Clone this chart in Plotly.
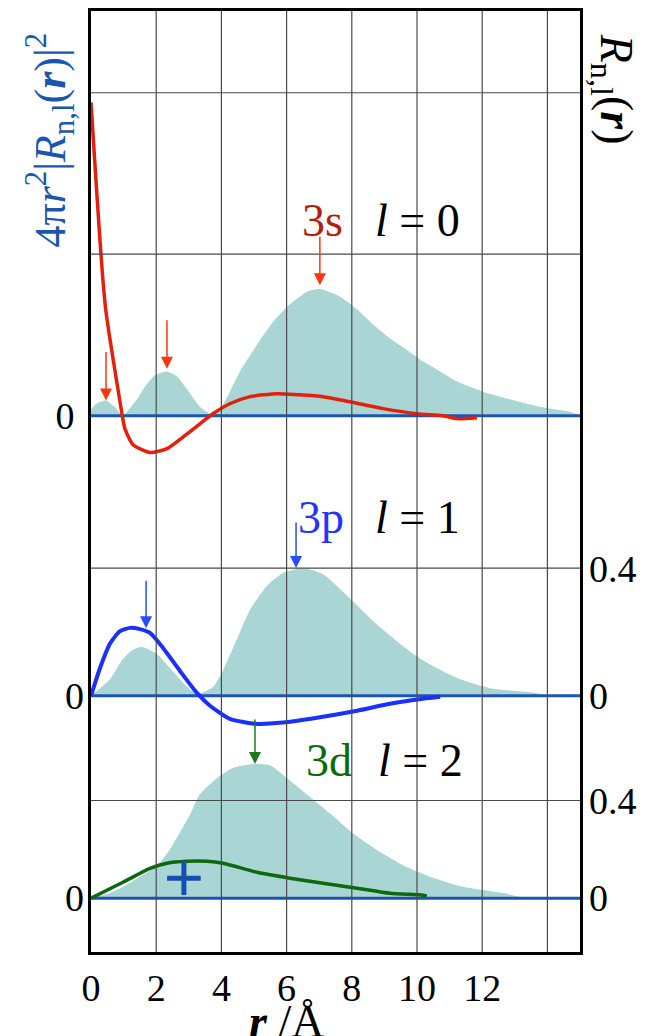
import plotly.graph_objects as go

# ---- radial data (r in Å) ----
# 3s: radial probability density (relative) and radial function R(r)
r_3s_dens = [0, 0.2, 0.46, 0.72, 0.98, 1.41, 1.66, 1.96, 2.33, 2.64, 2.94, 3.34, 3.71,
             4.05, 4.57, 5.09, 5.58, 6.10, 6.63, 7.02, 7.64, 8.16, 8.65, 9.17, 9.69,
             10.18, 10.71, 11.23, 12.02, 12.85, 13.77, 14.69, 14.94]
dens_3s = [0.05, 0.10, 0.12, 0.07, 0.005, 0.13, 0.23, 0.32, 0.35, 0.31, 0.21, 0.07, 0.01,
           0.09, 0.35, 0.56, 0.74, 0.88, 0.98, 1.00, 0.94, 0.84, 0.72, 0.61, 0.52,
           0.43, 0.35, 0.27, 0.19, 0.13, 0.07, 0.03, 0.01]
r_3s_R = [0, 0.12, 0.25, 0.35, 0.45, 0.58, 0.79, 0.94, 1.04, 1.29, 1.81, 2.33, 3.04,
          3.74, 4.26, 4.88, 5.71, 6.32, 7.12, 7.94, 8.96, 10.0, 10.8, 11.23, 11.84]
R_3s = [0.97, 0.78, 0.58, 0.44, 0.33, 0.238, 0.105, 0.012, -0.040, -0.090, -0.114, -0.102, -0.049,
        0.006, 0.037, 0.059, 0.068, 0.065, 0.059, 0.043, 0.022, 0.006, 0.0, -0.009, -0.006]

# 3p
r_3p_dens = [0, 0.58, 0.98, 1.26, 1.56, 2.02, 2.52, 3.04, 3.34, 3.74, 4.05, 4.48, 4.88,
             5.40, 5.89, 6.50, 7.12, 7.94, 8.65, 9.39, 10.18, 11.23, 12.24, 13.68, 13.93]
dens_3p = [0.0, 0.13, 0.29, 0.36, 0.385, 0.33, 0.19, 0.05, 0.02, 0.07, 0.20, 0.45, 0.68,
           0.87, 0.97, 1.01, 0.96, 0.77, 0.59, 0.43, 0.28, 0.14, 0.06, 0.02, 0.0]
r_3p_R = [0, 0.28, 0.58, 0.89, 1.20, 1.50, 1.81, 2.21, 2.73, 3.25, 3.65, 4.26, 5.09,
          5.89, 6.93, 8.16, 9.17, 10.18, 10.71]
R_3p = [0, 0.088, 0.163, 0.203, 0.213, 0.209, 0.197, 0.150, 0.078, 0.009, -0.031, -0.072, -0.088,
        -0.084, -0.069, -0.047, -0.025, -0.009, -0.003]

# 3d
r_3d_dens = [0, 0.58, 0.98, 1.50, 1.96, 2.33, 2.73, 3.04, 3.34, 3.87, 4.36, 4.97, 5.49,
             6.10, 6.72, 7.33, 8.04, 8.77, 9.57, 10.40, 11.41, 12.64, 13.16]
dens_3d = [0, 0.04, 0.09, 0.17, 0.24, 0.35, 0.52, 0.66, 0.82, 0.95, 1.03, 1.06, 1.05,
           0.93, 0.80, 0.67, 0.51, 0.38, 0.26, 0.17, 0.09, 0.04, 0.01]
r_3d_R = [0, 0.98, 1.81, 2.33, 2.94, 3.56, 4.05, 5.09, 6.10, 7.12, 8.16, 9.17, 10.18, 10.3]
R_3d = [0, 0.065, 0.122, 0.143, 0.151, 0.151, 0.143, 0.106, 0.082, 0.061, 0.041, 0.020, 0.012, 0.008]

# maxima marked by arrows: (r, value)
peaks_3s = [(0.46, 0.12), (2.33, 0.37), (7.02, 1.03)]
peak_3p_R = (1.69, 0.212)
peak_3p_dens = (6.29, 1.01)
peak_3d_dens = (5.03, 1.06)
plus_3d = (2.85, 0.082)

x_ticks = [0, 2, 4, 6, 8, 10, 12]
x_grid = [2, 4, 6, 8, 10, 12, 14]
R1_grid = [0.5, 1.0]
R_ticks = [0, 0.4]

# ---- layout geometry (pixels) ----
W, H = 648, 1036
TOP, BOTTOM, LEFT, RIGHT = 8, 952, 91, 580
X_RANGE = [0, 15]


def span(base_px, px_per_unit):
    """Axis range so that value 0 lands on base_px with the given scale."""
    return [(base_px - BOTTOM) / px_per_unit, (base_px - TOP) / px_per_unit]


DENS_SCALE = 127
FILL = '#aad5d5'
BASE = '#1a56b0'
SERIF = 'Liberation Serif'
TICKFONT = dict(family=SERIF, size=38, color='black')

fig = go.Figure()

# 3s
fig.add_trace(go.Scatter(x=r_3s_dens, y=dens_3s, yaxis='y', mode='lines',
                         line=dict(width=0, shape='spline', smoothing=0.6),
                         fill='tozeroy', fillcolor=FILL, hoverinfo='skip'))
fig.add_trace(go.Scatter(x=X_RANGE, y=[0, 0], yaxis='y', mode='lines',
                         line=dict(color=BASE, width=3), hoverinfo='skip'))
fig.add_trace(go.Scatter(x=r_3s_R, y=R_3s, yaxis='y2', mode='lines',
                         line=dict(color='#e4200c', width=3.5, shape='spline', smoothing=0.6)))
# 3p
fig.add_trace(go.Scatter(x=r_3p_dens, y=dens_3p, yaxis='y3', mode='lines',
                         line=dict(width=0, shape='spline', smoothing=0.6),
                         fill='tozeroy', fillcolor=FILL, hoverinfo='skip'))
fig.add_trace(go.Scatter(x=X_RANGE, y=[0, 0], yaxis='y3', mode='lines',
                         line=dict(color=BASE, width=3), hoverinfo='skip'))
fig.add_trace(go.Scatter(x=r_3p_R, y=R_3p, yaxis='y4', mode='lines',
                         line=dict(color='#1a30ff', width=4, shape='spline', smoothing=0.6)))
# 3d
fig.add_trace(go.Scatter(x=r_3d_dens, y=dens_3d, yaxis='y5', mode='lines',
                         line=dict(width=0, shape='spline', smoothing=0.6),
                         fill='tozeroy', fillcolor=FILL, hoverinfo='skip'))
fig.add_trace(go.Scatter(x=X_RANGE, y=[0, 0], yaxis='y5', mode='lines',
                         line=dict(color=BASE, width=3), hoverinfo='skip'))
fig.add_trace(go.Scatter(x=r_3d_R, y=R_3d, yaxis='y6', mode='lines',
                         line=dict(color='#0b6a0b', width=3.5, shape='spline', smoothing=0.6)))
fig.add_trace(go.Scatter(x=[plus_3d[0]], y=[plus_3d[1]], yaxis='y6', mode='markers',
                         marker=dict(symbol='cross-thin', size=24,
                                     line=dict(color='#1550b0', width=5))))

hidden = dict(showgrid=False, zeroline=False, showticklabels=False, ticks='', showline=False)
left0 = dict(tickvals=[0], ticktext=['0'], showgrid=False, zeroline=False, ticks='',
             tickfont=TICKFONT, ticklabelstandoff=6)
rightR = dict(tickvals=R_ticks, ticktext=['0', '0.4'], showgrid=False, zeroline=False, ticks='',
              side='right', tickfont=TICKFONT, ticklabelstandoff=8, overlaying='y')

fig.update_layout(
    width=W, height=H,
    margin=dict(l=LEFT, r=W - RIGHT, t=TOP, b=H - BOTTOM, pad=0),
    paper_bgcolor='white', plot_bgcolor='white', showlegend=False,
    xaxis=dict(range=X_RANGE, tickvals=x_ticks, ticktext=[str(v) for v in x_ticks],
               showgrid=False, zeroline=False, ticks='', ticklen=0, tickfont=TICKFONT,
               showline=True, mirror=True, linecolor='black', linewidth=3,
               ticklabelstandoff=0),
    yaxis=dict(range=span(414, DENS_SCALE), showline=True, mirror=True,
               linecolor='black', linewidth=3, **left0),
    yaxis2=dict(range=span(414, 324), overlaying='y', **hidden),
    yaxis3=dict(range=span(695, DENS_SCALE), overlaying='y', **left0),
    yaxis4=dict(range=span(695, 320), **rightR),
    yaxis5=dict(range=span(898, DENS_SCALE), overlaying='y', **left0),
    yaxis6=dict(range=span(898, 245), **rightR),
)

# grid lines drawn over the shaded densities
GRID = dict(color='#4a4a4a', width=1.2)
shapes = []
for gx in x_grid:
    shapes.append(dict(type='line', xref='x', yref='paper', x0=gx, x1=gx, y0=0, y1=1,
                       line=GRID, layer='above'))
for gy in R1_grid:
    shapes.append(dict(type='line', xref='paper', yref='y2', x0=0, x1=1, y0=gy, y1=gy,
                       line=GRID, layer='above'))
for ax_ref in ('y4', 'y6'):
    shapes.append(dict(type='line', xref='paper', yref=ax_ref, x0=0, x1=1,
                       y0=R_ticks[1], y1=R_ticks[1], line=GRID, layer='above'))
fig.update_layout(shapes=shapes)

ann = []


def arrow(x, y, yref, color, ay=-48):
    ann.append(dict(x=x, y=y, xref='x', yref=yref, text='', showarrow=True,
                    arrowhead=2, arrowsize=1.6, arrowwidth=1.5, arrowcolor=color,
                    ax=0, ay=ay, standoff=0))


for px, py in peaks_3s:
    arrow(px, py, 'y', '#ff3512', ay=-50)
arrow(peak_3p_R[0], peak_3p_R[1], 'y4', '#2a4cff', ay=-49)
arrow(peak_3p_dens[0], peak_3p_dens[1], 'y3', '#2a4cff', ay=-47)
arrow(peak_3d_dens[0], peak_3d_dens[1], 'y5', '#1f7a1f', ay=-46)


def label(text, x, y, yref, color):
    ann.append(dict(x=x, y=y, xref='x', yref=yref, text=text, showarrow=False,
                    xanchor='center', yanchor='middle',
                    font=dict(family=SERIF, size=46, color=color)))


label('3s', 7.09, 1.54, 'y', '#b41e10')
label('<i>l</i> = 0', 10.03, 1.54, 'y', 'black')
label('3p', 7.05, 1.41, 'y3', '#2535ff')
label('<i>l</i> = 1', 10.03, 1.41, 'y3', 'black')
label('3d', 7.3, 1.087, 'y5', '#0d6b0d')
label('<i>l</i> = 2', 10.1, 1.087, 'y5', 'black')


def px_to_paper(px, py):
    return (px - LEFT) / (RIGHT - LEFT), (BOTTOM - py) / (BOTTOM - TOP)


lx, ly = px_to_paper(50, 138)
ann.append(dict(x=lx, y=ly, xref='paper', yref='paper', showarrow=False, textangle=-90,
                xanchor='center', yanchor='middle',
                text='4π<i>r</i><sup>2</sup>|<i>R</i><sub>n,l</sub>(<b><i>r</i></b>)|<sup>2</sup>',
                font=dict(family=SERIF, size=44, color='#1a56b0')))
rx, ry = px_to_paper(613, 86)
ann.append(dict(x=rx, y=ry, xref='paper', yref='paper', showarrow=False, textangle=90,
                xanchor='center', yanchor='middle',
                text='<i>R</i><sub>n,l</sub>(<b><i>r</i></b>)',
                font=dict(family=SERIF, size=46, color='black')))
tx, ty = px_to_paper(286, 1022)
ann.append(dict(x=tx, y=ty, xref='paper', yref='paper', showarrow=False,
                xanchor='center', yanchor='middle',
                text='<b><i>r</i></b> /Å',
                font=dict(family=SERIF, size=46, color='black')))
fig.update_layout(annotations=ann)

fig.write_html('out.html')
